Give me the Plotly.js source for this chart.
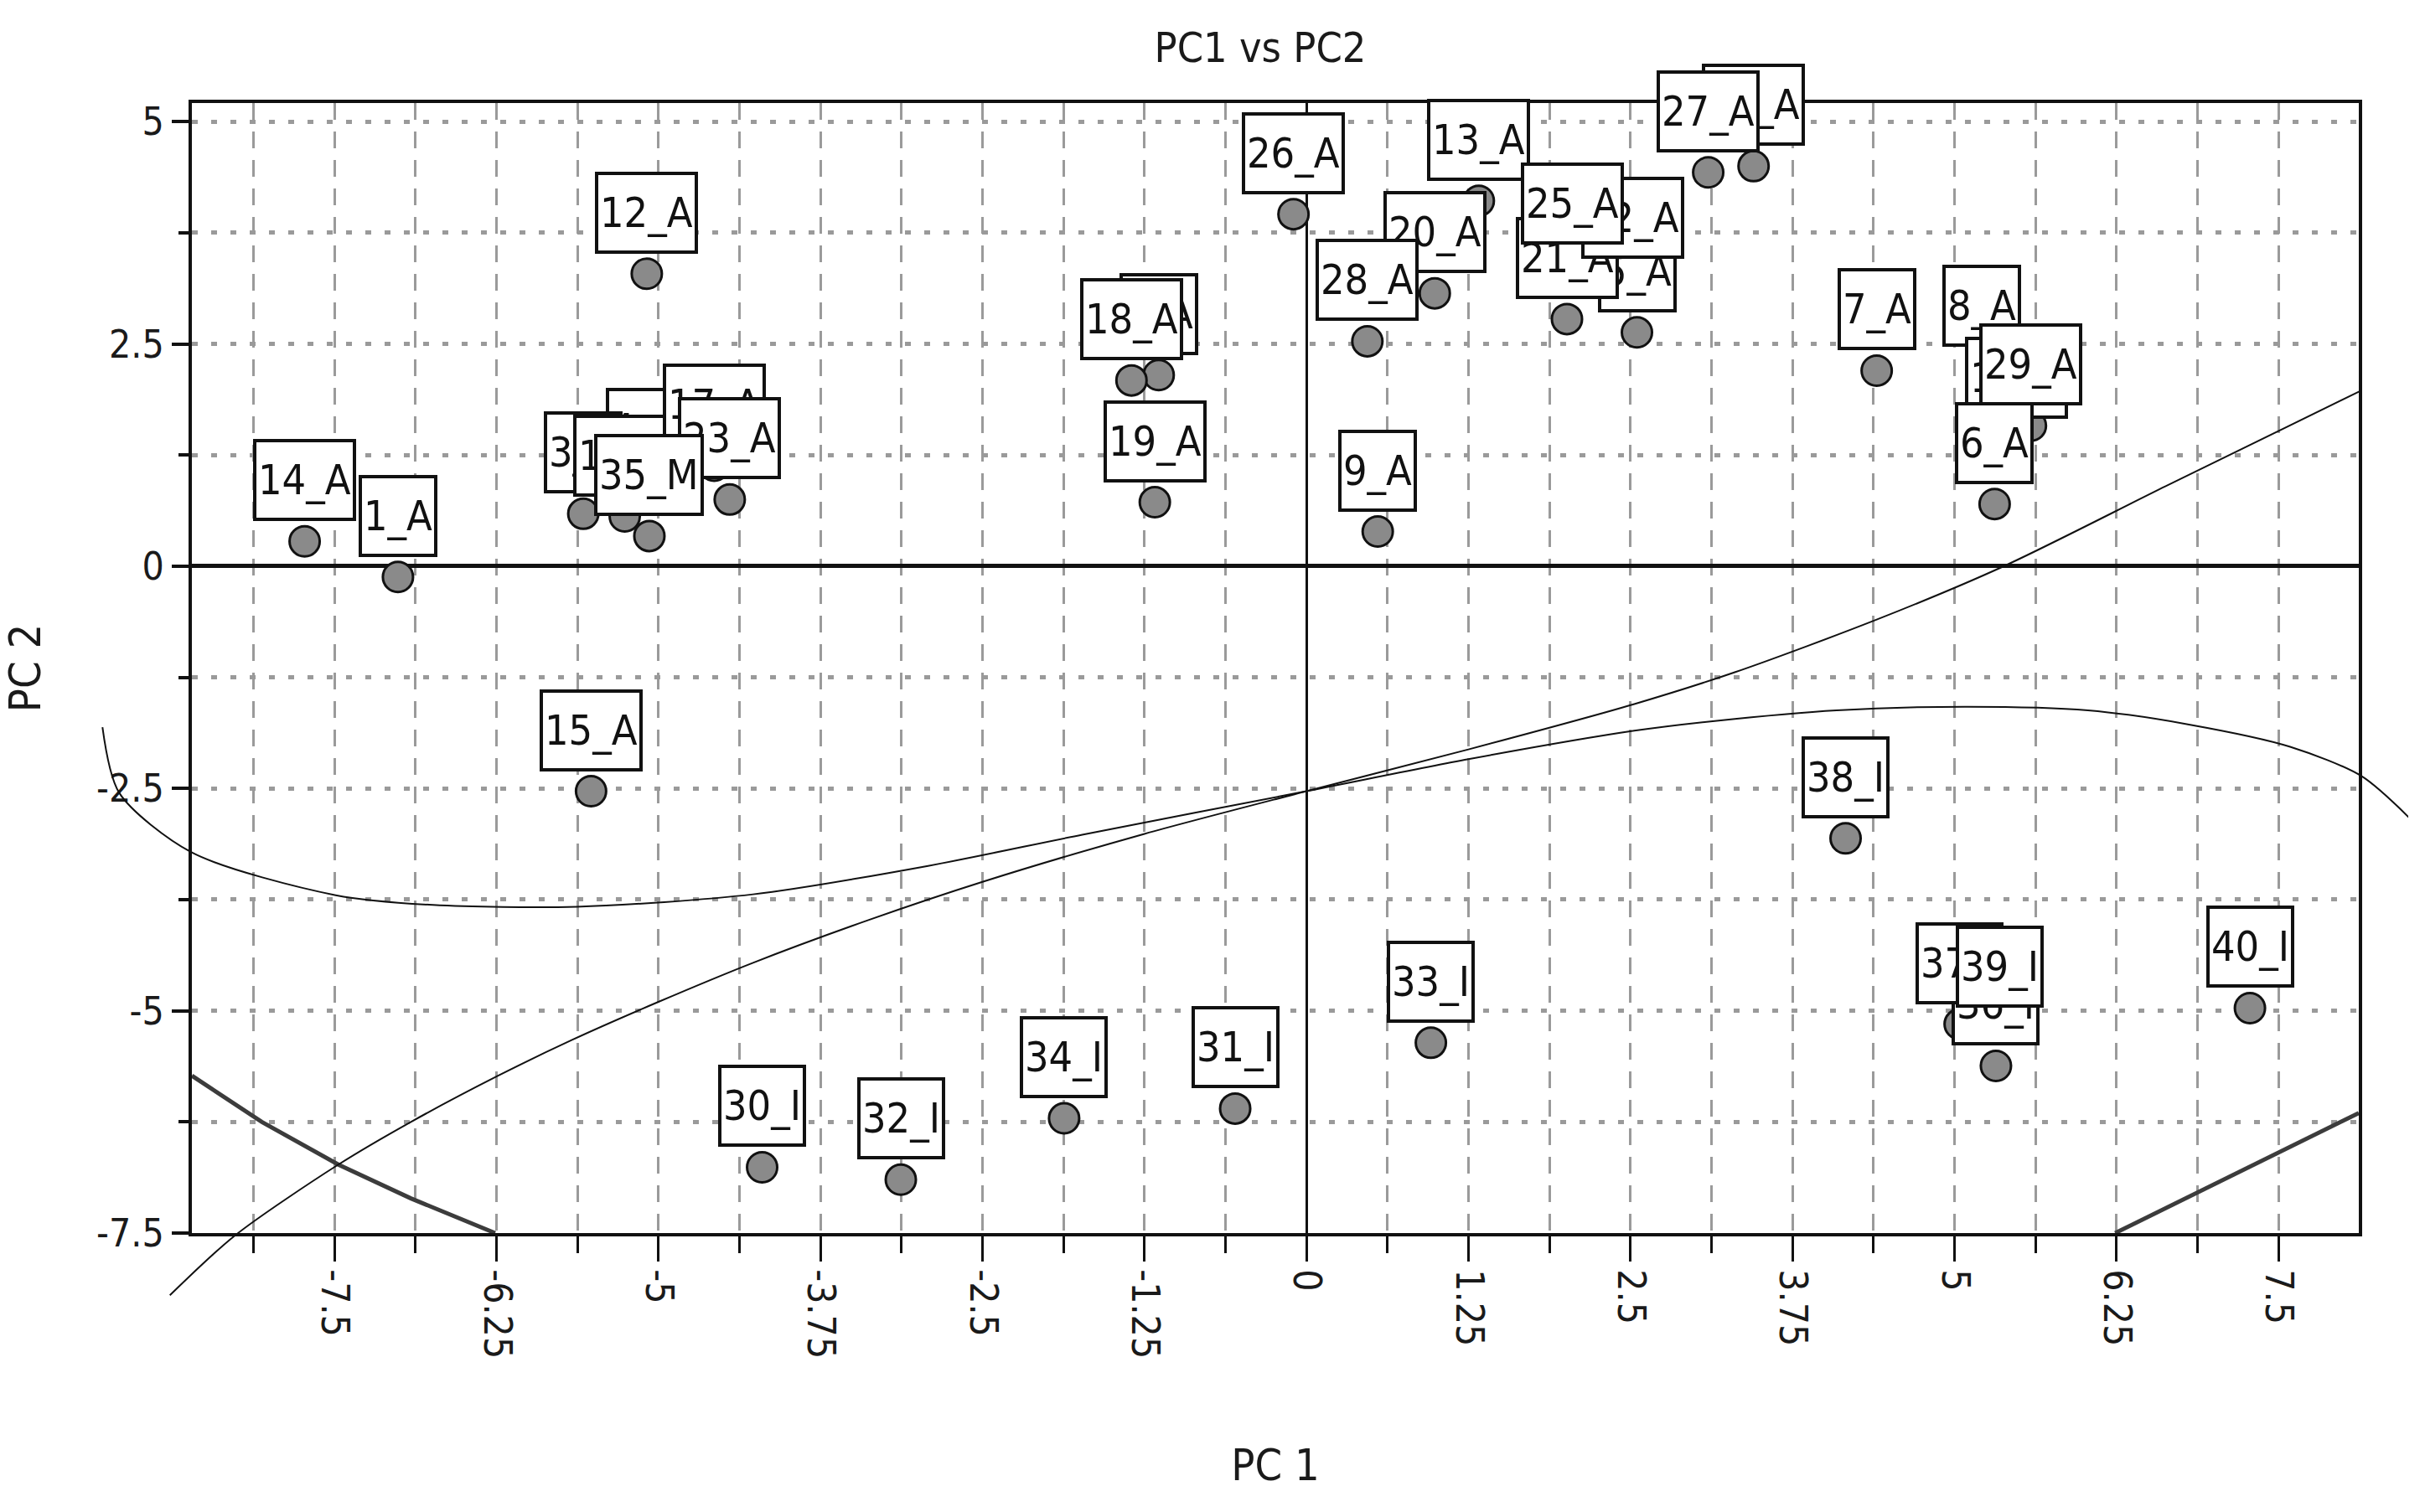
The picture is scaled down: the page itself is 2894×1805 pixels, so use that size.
<!DOCTYPE html>
<html>
<head>
<meta charset="utf-8">
<script src="https://cdn.plot.ly/plotly-3.0.1.min.js"></script>
<style>
  html, body { margin: 0; padding: 0; background: #ffffff; }
  #chart { width: 2894px; height: 1805px; }
</style>
</head>
<body>
<div id="chart"></div>
<script>
// ---------------- data ----------------
// order = drawing order of the label boxes (back to front)
const sampleLabels = [
  "14_A", "1_A", "12_A", "15_A",
  "4_A", "3_A", "11_A", "17_A", "23_A", "35_M",
  "2_A", "18_A", "19_A", "26_A", "9_A",
  "13_A", "20_A", "28_A",
  "5_A", "21_A", "22_A", "25_A",
  "24_A", "27_A",
  "7_A", "8_A", "10_A", "29_A", "6_A",
  "30_I", "32_I", "34_I", "31_I", "33_I", "38_I",
  "36_I", "37_I", "39_I", "40_I"
];
const pc1 = [
  -7.73, -7.01, -5.09, -5.52,
  -5.10, -5.58, -5.26, -4.57, -4.45, -5.07,
  -1.14, -1.35, -1.17, -0.10, 0.55,
  1.33, 0.99, 0.47,
  2.55, 2.01, 2.52, 2.05,
  3.45, 3.10,
  4.40, 5.21, 5.48, 5.59, 5.31,
  -4.20, -3.13, -1.87, -0.55, 0.96, 4.16,
  5.32, 5.04, 5.35, 7.28
];
const pc2 = [
  0.28, -0.12, 3.29, -2.53,
  0.86, 0.59, 0.56, 1.13, 0.75, 0.34,
  2.15, 2.09, 0.72, 3.96, 0.39,
  4.11, 3.07, 2.53,
  2.63, 2.78, 3.23, 3.39,
  4.50, 4.43,
  2.20, 2.24, 1.43, 1.58, 0.70,
  -6.76, -6.90, -6.21, -6.10, -5.36, -3.06,
  -5.62, -5.15, -5.19, -4.97
];

// axis ticks
const xTickVals = [-7.5, -6.25, -5, -3.75, -2.5, -1.25, 0, 1.25, 2.5, 3.75, 5, 6.25, 7.5];
const xTickText = ["-7.5", "-6.25", "-5", "-3.75", "-2.5", "-1.25", "0", "1.25", "2.5", "3.75", "5", "6.25", "7.5"];
const yTickVals = [-7.5, -5, -2.5, 0, 2.5, 5];
const yTickText = ["-7.5", "-5", "-2.5", "0", "2.5", "5"];

// curve rising through the middle
const curveAX = [-8.77, -8.27, -7.47, -6.91, -6.25, -5.67, -5.00, -4.27, -3.38, -2.50, -1.25, 0.00, 1.25, 2.53, 3.31, 4.40, 5.38, 6.63, 8.13];
const curveAY = [-8.20, -7.53, -6.73, -6.25, -5.74, -5.33, -4.90, -4.46, -3.98, -3.55, -3.01, -2.53, -2.06, -1.55, -1.19, -0.60, 0.00, 0.90, 1.97];
// wavy curve
const curveBX = [-9.29, -9.16, -8.60, -7.49, -6.74, -5.63, -4.27, -2.92, -1.73, 0.00, 1.25, 2.53, 3.15, 4.09, 5.10, 6.03, 6.81, 7.59, 8.14, 8.51];
const curveBY = [-1.81, -2.55, -3.22, -3.70, -3.81, -3.83, -3.69, -3.37, -3.02, -2.53, -2.17, -1.85, -1.74, -1.62, -1.58, -1.62, -1.78, -2.03, -2.36, -2.83];
// heavy boundary pieces at the lower corners
const boundLeftX = [-8.60, -8.06, -7.47, -6.91, -6.26];
const boundLeftY = [-5.73, -6.25, -6.73, -7.11, -7.50];
const boundRightX = [6.24, 6.90, 7.50, 8.12];
const boundRightY = [-7.50, -7.03, -6.59, -6.15];

// ---------------- layout geometry ----------------
const W = 2894, H = 1805;
const M = { l: 100, r: 20, t: 80, b: 250 };
const frame = { left: 229, right: 2815, top: 123, bottom: 1472 };
const xRange = [-8.6, 8.12];
const yRange = [-7.5, 5.21];

const paperW = W - M.l - M.r, paperH = H - M.t - M.b;
const xDomain = [(frame.left - M.l) / paperW, (frame.right - M.l) / paperW];
const yDomain = [(H - M.b - frame.bottom) / paperH, (H - M.b - frame.top) / paperH];
const xu = (xRange[1] - xRange[0]) / (frame.right - frame.left);
const yu = (yRange[1] - yRange[0]) / (frame.bottom - frame.top);
const x2Range = [xRange[0] - (frame.left - M.l) * xu, xRange[1] + (W - M.r - frame.right) * xu];
const y2Range = [yRange[0] - (H - M.b - frame.bottom) * yu, yRange[1] + (frame.top - M.t) * yu];

const FONT = "Liberation Sans Narrow, Arial Narrow, DejaVu Sans Condensed, sans-serif";
const GRID = "#9a9a9a";

const traces = [
  {
    type: "scatter", mode: "lines", x: boundLeftX, y: boundLeftY,
    line: { color: "#3c3c3c", width: 5 }, hoverinfo: "skip", showlegend: false
  },
  {
    type: "scatter", mode: "lines", x: boundRightX, y: boundRightY,
    line: { color: "#3c3c3c", width: 5 }, hoverinfo: "skip", showlegend: false
  },
  {
    type: "scatter", mode: "markers", x: pc1, y: pc2, text: sampleLabels,
    marker: { size: 36, color: "#8a8a8a", line: { color: "#111111", width: 3 } },
    showlegend: false, cliponaxis: false
  },
  {
    type: "scatter", mode: "lines", x: curveAX, y: curveAY, xaxis: "x2", yaxis: "y2",
    line: { color: "#111111", width: 2, shape: "spline", smoothing: 0.8 }, hoverinfo: "skip", showlegend: false
  },
  {
    type: "scatter", mode: "lines", x: curveBX, y: curveBY, xaxis: "x2", yaxis: "y2",
    line: { color: "#111111", width: 2, shape: "spline", smoothing: 0.8 }, hoverinfo: "skip", showlegend: false
  }
];

const annotations = sampleLabels.map((lab, i) => ({
  x: pc1[i], y: pc2[i], xref: "x", yref: "y",
  text: lab, showarrow: false,
  xanchor: "center", yanchor: "bottom", yshift: 24,
  font: { family: FONT, size: 50, color: "#111111" },
  bgcolor: "#ffffff", bordercolor: "#111111", borderwidth: 4, borderpad: 2,
  height: 86
}));

const layout = {
  width: W, height: H,
  margin: M,
  paper_bgcolor: "#ffffff", plot_bgcolor: "rgba(0,0,0,0)",
  showlegend: false, hovermode: false,
  title: {
    text: "PC1 vs PC2",
    font: { family: FONT, size: 50, color: "#1a1a1a" },
    x: 1504 / W, xref: "container", xanchor: "center",
    y: 1 - 56 / H, yref: "container", yanchor: "middle"
  },
  xaxis: {
    domain: xDomain, range: xRange, anchor: "y",
    tickmode: "array", tickvals: xTickVals, ticktext: xTickText,
    tickangle: 90,
    tickfont: { family: FONT, size: 46, color: "#1a1a1a" },
    ticks: "outside", ticklen: 30, tickwidth: 3, tickcolor: "#111111",
    showgrid: true, gridcolor: GRID, gridwidth: 3, griddash: "20px,14px",
    minor: { tickmode: "linear", tick0: 0, dtick: 0.625, ticks: "outside", ticklen: 20, tickwidth: 3, tickcolor: "#111111",
             showgrid: true, gridcolor: GRID, gridwidth: 3, griddash: "20px,14px" },
    zeroline: true, zerolinecolor: "#111111", zerolinewidth: 3,
    showline: true, linecolor: "#111111", linewidth: 4, mirror: true,
    title: { text: "PC 1", font: { family: FONT, size: 52, color: "#1a1a1a" }, standoff: 110 },
    automargin: false, fixedrange: true
  },
  yaxis: {
    domain: yDomain, range: yRange, anchor: "x",
    tickmode: "array", tickvals: yTickVals, ticktext: yTickText,
    tickfont: { family: FONT, size: 46, color: "#1a1a1a" },
    ticks: "outside", ticklen: 20, tickwidth: 4, tickcolor: "#111111",
    showgrid: true, gridcolor: GRID, gridwidth: 5, griddash: "7px,16px",
    minor: { tickmode: "linear", tick0: 0, dtick: 1.25, ticks: "outside", ticklen: 12, tickwidth: 4, tickcolor: "#111111",
             showgrid: true, gridcolor: GRID, gridwidth: 5, griddash: "7px,16px" },
    zeroline: true, zerolinecolor: "#111111", zerolinewidth: 5,
    showline: true, linecolor: "#111111", linewidth: 4, mirror: true,
    title: { text: "PC 2", font: { family: FONT, size: 52, color: "#1a1a1a" }, standoff: 68 },
    automargin: false, fixedrange: true
  },
  xaxis2: { domain: [0, 1], range: x2Range, anchor: "y2", visible: false, fixedrange: true },
  yaxis2: { domain: [0, 1], range: y2Range, anchor: "x2", visible: false, fixedrange: true },
  annotations: annotations
};

Plotly.newPlot("chart", traces, layout, { displayModeBar: false, staticPlot: true });
</script>
</body>
</html>
